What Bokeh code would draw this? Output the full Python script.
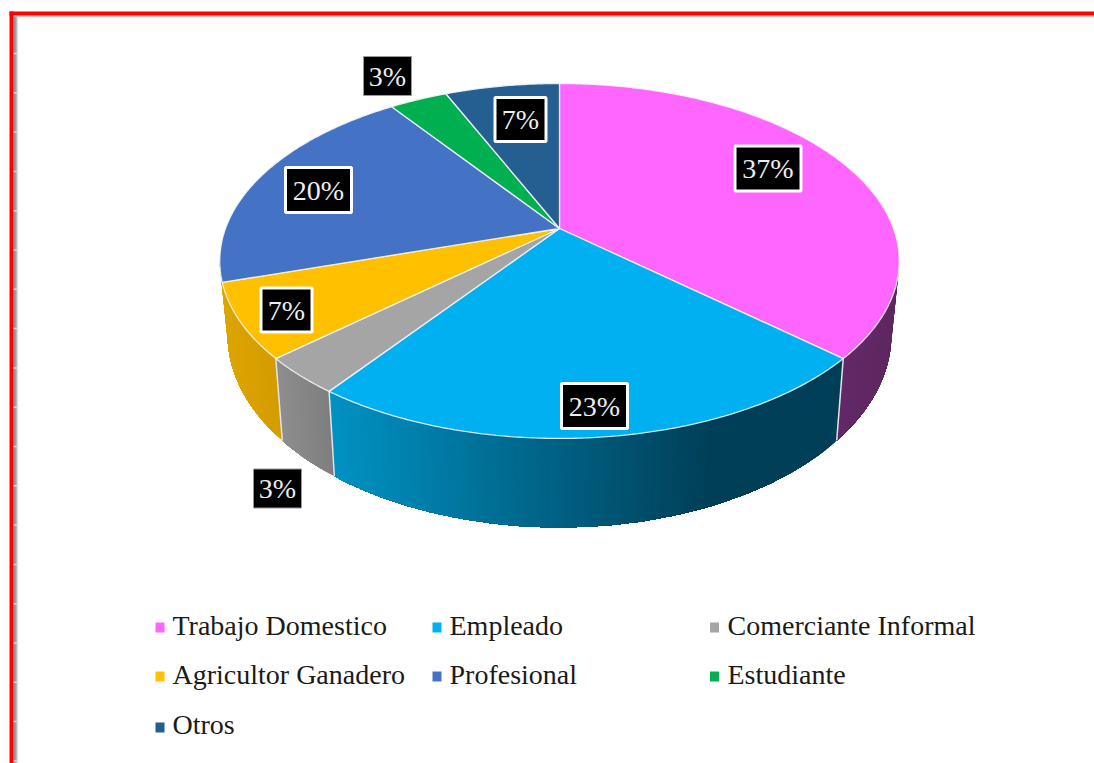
import math
from bokeh.plotting import figure
from bokeh.embed import file_html
from bokeh.resources import INLINE
from bokeh.core.properties import value

# Data
categories = ["Trabajo Domestico", "Empleado", "Comerciante Informal",
              "Agricultor Ganadero", "Profesional", "Estudiante", "Otros"]
shares = [36.6, 23.4, 3.4, 6.8, 20.0, 3.3, 6.5]
labels = ["37%", "23%", "3%", "7%", "20%", "3%", "7%"]
colors = ["#FF66FF", "#00B0F0", "#A5A5A5", "#FFC000", "#4472C4", "#00B050", "#255E91"]

# Side-wall gradient: left colour, right colour, x where the right colour is reached
side_colors = {0: ("#622868", "#5E2860", 900), 1: ("#0092C4", "#003F58", 710),
               2: ("#8E8E8E", "#7C7C7C", 335), 3: ("#DDA600", "#D29A00", 285)}

# Layout (pixels of the picture)
CX, CY = 559, 228
A, D, C = 171.5, 334, 0.183
SX, Y0, SY = 0.977, 298.6, 1.0875
label_pos = [(767.5, 168, True), (594, 405.5, True), (277, 488, False), (286, 309.5, True),
             (318, 189.5, True), (387, 75.5, False), (520, 119, True)]
legend_cols = [(159.5, 172), (436.5, 449), (714, 727)]
legend_rows = [(627, 625), (676, 674), (727, 724)]

W, H = 1094, 763
p = figure(width=W, height=H, x_range=(0, W), y_range=(H, 0),
           toolbar_location=None, output_backend="svg", min_border=0,
           background_fill_color="white", border_fill_color="white")
p.xaxis.visible = False
p.yaxis.visible = False
p.grid.visible = False
p.outline_line_color = None


def top(deg):
    t = math.radians(deg)
    u, v = math.sin(t), math.cos(t)
    den = 1 + C * v
    return CX + D * u / den, CY - A * v / den


def low(deg):
    x, y = top(deg)
    return CX + SX * (x - CX), Y0 + SY * (y - CY)


def mix(a, b, t):
    t = max(0.0, min(1.0, t))
    ca = [int(a[i:i + 2], 16) for i in (1, 3, 5)]
    cb = [int(b[i:i + 2], 16) for i in (1, 3, 5)]
    return "#%02x%02x%02x" % tuple(round(x + (y - x) * t) for x, y in zip(ca, cb))


# Frame of the screenshot
p.quad(left=9, right=13, top=11, bottom=H, color="#FF0000", line_color=None)
p.quad(left=9, right=W, top=11, bottom=15, color="#FF0000", line_color=None)
p.quad(left=13, right=W, top=15, bottom=16, color="#FF8080", line_color=None)
for i, c in enumerate(["#666666", "#707070", "#888888", "#AAAAAA", "#EEEEEE"]):
    p.quad(left=13 + i, right=14 + i, top=16, bottom=H, color=c, line_color=None)
ty = [53 + 39.3 * k for k in range(19)]
p.segment(x0=[13] * len(ty), x1=[17] * len(ty), y0=ty, y1=ty, line_color="#D8D8D8", line_width=1.5)

# Slice angles
edges = [0.0]
for s in shares:
    edges.append(edges[-1] + s * 3.6 / (sum(shares) / 100))
tangent = math.degrees(math.acos(-C))

# Side walls, painted so that each band overlaps the next (no seams)
for i, (c0, c1, xend) in side_colors.items():
    a0, a1 = edges[i], edges[i + 1]
    if i == 0:
        a0 = tangent
    if i == 3:
        a1 = 360 - tangent
    n = max(2, int((a1 - a0) * 2))
    angles = [a0 + (a1 - a0) * k / n for k in range(n + 1)]
    xstart = min(top(a)[0] for a in angles)
    for k in range(n):
        keep = angles[k:]
        tp = [top(a) for a in keep]
        lw = [low(a) for a in keep]
        xs = [q[0] for q in tp] + [q[0] for q in reversed(lw)]
        ys = [q[1] for q in tp] + [q[1] for q in reversed(lw)]
        f = mix(c0, c1, ((top(angles[k])[0] + top(angles[k + 1])[0]) / 2 - xstart) / (xend - xstart))
        p.patch(xs, ys, fill_color=f, line_color=None)

# Light edges between the walls
for a in edges[1:4]:
    t0, l0 = top(a), low(a)
    p.line([t0[0], l0[0]], [t0[1], l0[1]], line_color="#E4E4E4", line_width=1.5)

# Top face
for i, col in enumerate(colors):
    a0, a1 = edges[i], edges[i + 1]
    n = max(3, int((a1 - a0) * 2))
    pts = [top(a0 + (a1 - a0) * k / n) for k in range(n + 1)]
    xs = [CX] + [q[0] for q in pts]
    ys = [CY] + [q[1] for q in pts]
    p.patch(xs, ys, fill_color=col, line_color="#F4F4F4", line_width=1.3, line_alpha=0.9)

# Data labels
for txt, (x, y, boxed) in zip(labels, label_pos):
    if boxed:
        w, h = (51, 44) if len(txt) == 2 else (66, 45)
    else:
        w, h = 48, 39
    p.rect(x=[x], y=[y], width=[w], height=[h], fill_color="black",
           line_color="white" if boxed else "#999999", line_width=3 if boxed else 1)
    p.text(x=[x], y=[y], text=[txt], text_color="#EDEDED", text_font=value("Liberation Serif"),
           text_font_size="28px", text_align="center", text_baseline="middle")

# Legend
for i, (name, col) in enumerate(zip(categories, colors)):
    sx, tx = legend_cols[i % 3]
    sy, by = legend_rows[i // 3]
    p.rect(x=[sx], y=[sy], width=[9], height=[10], fill_color=col, line_color=None)
    p.text(x=[tx], y=[by], text=[name], text_color="#1A1A1A", text_font=value("Liberation Serif"),
           text_font_size="28px", text_align="left", text_baseline="alphabetic")

open("out.html", "w").write(file_html(p, INLINE))
